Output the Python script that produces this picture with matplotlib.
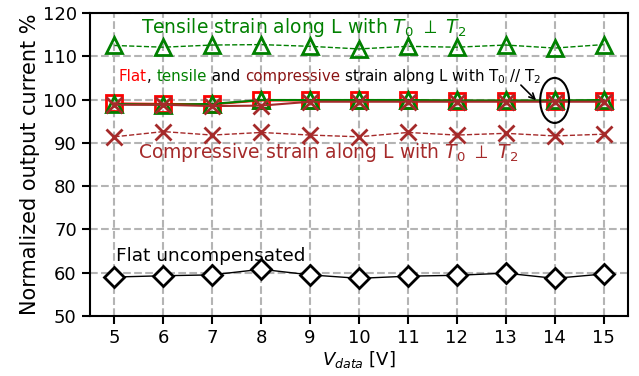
import matplotlib
matplotlib.use("Agg")
import matplotlib.pyplot as plt
from matplotlib.patches import Ellipse
from matplotlib.offsetbox import TextArea, HPacker, AnnotationBbox

plt.rcParams['font.family'] = ['DejaVu Sans']
plt.rcParams['mathtext.fontset'] = 'dejavusans'

vdata = [5, 6, 7, 8, 9, 10, 11, 12, 13, 14, 15]
tensile_perp = [112.5, 112.1, 112.6, 112.7, 112.3, 111.7, 112.3, 112.1, 112.6, 111.9, 112.7]
compressive_perp = [91.4, 92.6, 91.8, 92.4, 91.8, 91.4, 92.4, 91.8, 92.2, 91.6, 92.0]
flat_uncomp = [59.0, 59.3, 59.5, 60.8, 59.5, 58.7, 59.2, 59.4, 59.9, 58.7, 59.7]
flat_par = [99.1, 99.0, 98.9, 99.8, 99.8, 99.8, 99.8, 99.7, 99.7, 99.7, 99.7]
tensile_par = [99.0, 98.8, 99.0, 99.9, 99.9, 99.9, 99.9, 99.8, 99.8, 99.8, 99.9]
compressive_par = [98.8, 98.8, 98.5, 98.6, 99.5, 99.5, 99.5, 99.5, 99.5, 99.5, 99.5]

fig = plt.figure(figsize=(6.39, 3.76), dpi=100)
ax = fig.add_axes([90/639, 1-316/376, (628-90)/639, (316-13)/376])

ax.grid(True, linestyle='--', color='#b4b4b4', linewidth=1.5, zorder=0)
ax.set_axisbelow(True)

mk = dict(markersize=11, markeredgewidth=2, markerfacecolor='none')
ax.plot(vdata, tensile_perp, '--', color='green', lw=1, marker='^', **mk)
ax.plot(vdata, compressive_perp, '--', color='brown', lw=1, marker='x', markersize=11, markeredgewidth=2)
ax.plot(vdata, flat_uncomp, '-', color='black', lw=1, marker='D', markersize=10, markeredgewidth=2, markerfacecolor='white')
ax.plot(vdata, flat_par, '-', color='red', lw=1.5, marker='s', **mk)
ax.plot(vdata, tensile_par, '-', color='green', lw=1.5, marker='^', **mk)
ax.plot(vdata, compressive_par, '-', color='brown', lw=1.5, marker='x', markersize=11, markeredgewidth=2)

ax.set_xlim(4.5, 15.5)
ax.set_ylim(50, 120)
ax.set_xticks(vdata)
ax.set_yticks([50, 60, 70, 80, 90, 100, 110, 120])
ax.tick_params(direction='out', length=6, width=1.5, labelsize=13)
for s in ax.spines.values():
    s.set_linewidth(1.5)
ax.set_xlabel('$V_{data}$ [V]', fontsize=13, labelpad=1)
ax.set_ylabel('Normalized output current %', fontsize=15, labelpad=2)

ax.text(5.55, 115.4, 'Tensile strain along L with $T_0\\ \\perp\\ T_2$', color='green',
        fontsize=13.5, ha='left', va='baseline')
ax.text(5.48, 86.4, 'Compressive strain along L with $T_0\\ \\perp\\ T_2$', color='brown',
        fontsize=13.5, ha='left', va='baseline')
ax.text(5.03, 62.8, 'Flat uncompensated', color='black', fontsize=13.3, ha='left', va='baseline')

parts = [('Flat', 'red'), (', ', 'black'), ('tensile', 'green'), (' and ', 'black'),
         ('compressive', '#8b1515'), (' strain along L with T$_0$ // T$_2$', 'black')]
boxes = [TextArea(t, textprops=dict(color=c, fontsize=10.8)) for t, c in parts]
pack = HPacker(children=boxes, align='baseline', pad=0, sep=0)
ab = AnnotationBbox(pack, (5.09, 105.3), xycoords='data', frameon=False,
                    box_alignment=(0, 0.5), pad=0)
ax.add_artist(ab)

ax.annotate('', xy=(13.66, 99.4), xytext=(13.27, 103.8),
            arrowprops=dict(arrowstyle='->', color='black', lw=1.2))
ax.add_patch(Ellipse((14.0, 99.8), 0.59, 10.4, fill=False, edgecolor='black', lw=1.5, zorder=5))

fig.savefig('out.png', dpi=100)
